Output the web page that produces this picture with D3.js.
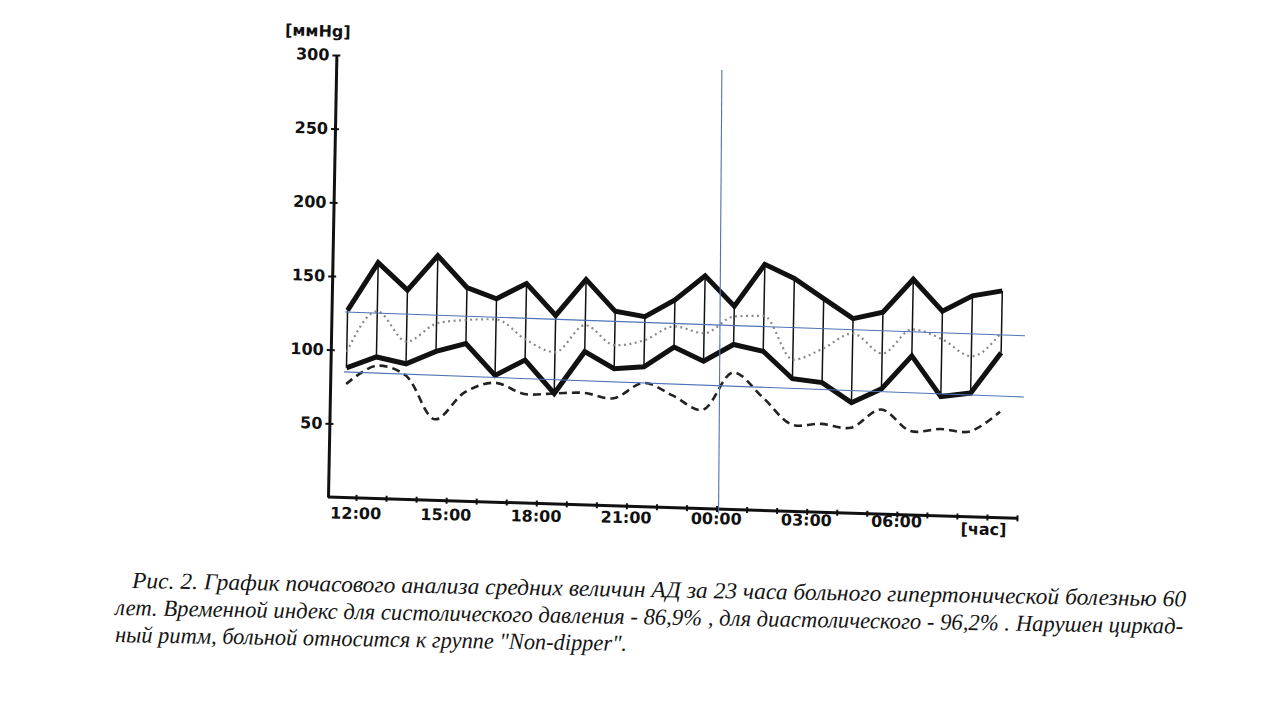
<!DOCTYPE html>
<html>
<head>
<meta charset="utf-8">
<script src="https://cdn.jsdelivr.net/npm/d3@7"></script>
<style>
  html, body { margin: 0; padding: 0; background: #ffffff; }
  svg { display: block; }
</style>
</head>
<body>
<svg id="chart" width="1278" height="720"></svg>
<script>
// ---- data ----
const hourTickValues = d3.range(0, 23);            // 12:00 ... 10:00, hourly ticks
const tickLabelHours = [0, 3, 6, 9, 12, 15, 18];
const tickLabels = ["12:00", "15:00", "18:00", "21:00", "00:00", "03:00", "06:00"];
const yTicks = [50, 100, 150, 200, 250, 300];

// 23 hourly averages
const systolic  = [127,160,142,166,145,138,149,128,153,132,129,141,158,138,167,158,145,132,137,160,139,150,154];
const diastolic = [ 88, 96, 92,101,107, 86, 97, 75,104, 93, 95,109,100,112,108, 90, 88, 75, 85,108, 81, 84,112];
const meanBP    = [ 99,127,107,120,123,124,111,103,122,109,113,123,119,131,132,103,111,122,109,126,120,109,126];
const heartRate = [ 77, 90, 84, 55, 74, 81, 74, 75, 76, 73, 84, 76, 67, 93, 77, 59, 60, 58, 71, 57, 59, 58, 72];

// blue reference lines drawn over the chart (hour, value)
const refUpper = [{h: -0.48, v: 125.9}, {h: 22.15, v: 124.0}];
const refLower = [{h: -0.48, v: 85.2},  {h: 22.15, v: 82.5}];
const refVertical = [{h: 11.9, v: 298}, {h: 12.07, v: -3}];

const captionLines = [
  "Рис. 2. График почасового анализа средних величин АД за 23 часа больного гипертонической болезнью 60",
  "лет. Временной индекс для систолического давления - 86,9% , для диастолического - 96,2% . Нарушен циркад-",
  "ный ритм, больной относится к группе \"Non-dipper\"."
];

// ---- layout ----
const svg = d3.select("#chart");
const ox = 328, oy = 497;          // axes origin
const xEnd = 1017;

const xTime = d3.scaleLinear().domain([0, 22]).range([356, 1017]);
const xIdx  = d3.scaleLinear().domain([0, systolic.length - 1]).range([344, 998]);
const y     = d3.scaleLinear().domain([0, 300]).range([oy, 55]);

// the scanned figure is slightly skewed
const g = svg.append("g")
  .attr("transform", `translate(${ox},${oy}) matrix(1,0.031,-0.019,1,0,0) translate(${-ox},${-oy})`);
const gLab = svg.append("g")
  .attr("transform", `translate(${ox},${oy}) matrix(1,0.015,-0.019,1,0,0) translate(${-ox},${-oy})`);

const ink = "#111";
const labelFont = "'DejaVu Sans', sans-serif";

// y axis
const yAxis = d3.axisLeft(y).tickValues(yTicks).tickFormat(d3.format("d")).tickSizeOuter(0).tickSizeInner(4);
const ya = g.append("g").attr("transform", `translate(${ox},0)`).call(yAxis);
ya.select(".domain").attr("stroke", ink).attr("stroke-width", 3);
ya.selectAll(".tick line").attr("x1", -4).attr("x2", 4).attr("stroke", ink).attr("stroke-width", 2);
ya.selectAll(".tick text")
  .attr("x", -7).attr("fill", ink)
  .style("font-family", labelFont).style("font-weight", "bold").style("font-size", "16px");

g.append("text")
  .attr("x", 309).attr("y", 37)
  .attr("text-anchor", "middle")
  .attr("fill", ink)
  .style("font-family", labelFont).style("font-weight", "bold").style("font-size", "16px")
  .text("[ммHg]");

// x axis
g.append("line").attr("x1", ox).attr("x2", xEnd).attr("y1", oy).attr("y2", oy)
  .attr("stroke", ink).attr("stroke-width", 3);
const xAxis = d3.axisBottom(xTime).tickValues(hourTickValues).tickSizeOuter(0).tickSizeInner(3)
  .tickFormat(() => "");
const xa = g.append("g").attr("transform", `translate(0,${oy})`).call(xAxis);
xa.select(".domain").remove();
xa.selectAll(".tick line").attr("y1", -3).attr("y2", 3).attr("stroke", ink).attr("stroke-width", 2);

// x tick labels (slightly less tilted in the scan)
gLab.selectAll("text.xl").data(tickLabelHours).join("text")
  .attr("class", "xl")
  .attr("x", d => xTime(d)).attr("y", 518.5)
  .attr("text-anchor", "middle").attr("fill", ink)
  .style("font-family", labelFont).style("font-weight", "bold").style("font-size", "16px")
  .text((d, i) => tickLabels[i]);

gLab.append("text")
  .attr("x", 984).attr("y", 525)
  .attr("text-anchor", "middle")
  .attr("fill", ink)
  .style("font-family", labelFont).style("font-weight", "bold").style("font-size", "16px")
  .text("[час]");

// vertical connectors between systolic and diastolic
g.append("g").selectAll("line").data(systolic).join("line")
  .attr("x1", (d, i) => xIdx(i)).attr("x2", (d, i) => xIdx(i))
  .attr("y1", d => y(d)).attr("y2", (d, i) => y(diastolic[i]))
  .attr("stroke", ink).attr("stroke-width", 1.5);

// dashed curve
g.append("path").datum(heartRate)
  .attr("fill", "none").attr("stroke", "#222").attr("stroke-width", 2.6)
  .attr("stroke-dasharray", "8,5")
  .attr("d", d3.line().x((d, i) => xIdx(i)).y(d => y(d)).curve(d3.curveCatmullRom.alpha(0.5)));

// mean pressure, grey dotted
g.append("path").datum(meanBP)
  .attr("fill", "none").attr("stroke", "#8a8a8a").attr("stroke-width", 2.2)
  .attr("stroke-dasharray", "2,3.5")
  .attr("d", d3.line().x((d, i) => xIdx(i)).y(d => y(d)).curve(d3.curveMonotoneX));

// systolic & diastolic thick lines
const thick = d3.line().x((d, i) => xIdx(i)).y(d => y(d));
[systolic, diastolic].forEach(s => {
  g.append("path").datum(s)
    .attr("fill", "none").attr("stroke", ink).attr("stroke-width", 5)
    .attr("stroke-linejoin", "miter").attr("stroke-miterlimit", 6)
    .attr("d", thick);
});

// blue reference lines
const refLine = d3.line().x(d => xTime(d.h)).y(d => y(d.v));
[refUpper, refLower, refVertical].forEach(r => {
  g.append("path").datum(r)
    .attr("fill", "none").attr("stroke", "#4f72b8").attr("stroke-width", 1.1)
    .attr("d", refLine);
});

// caption: each line laid out word by word along a slight slope
const capX = [132, 115, 115];
const capY = [588, 615, 642];
const capW = [1054, 1068, 512];
const capAngle = 1;
const slope = Math.tan(capAngle * Math.PI / 180);
const capFont = "'Liberation Serif', serif";
const capSize = "23px";
const meas = svg.append("text")
  .style("font-family", capFont).style("font-style", "italic").style("font-size", capSize);
const measure = s => { meas.text(s); return meas.node().getComputedTextLength(); };
const spaceW = measure("a a") - measure("aa");
const cap = svg.append("g");
captionLines.forEach((t, i) => {
  const words = t.split(" ");
  const widths = words.map(measure);
  const total = d3.sum(widths) + spaceW * (words.length - 1);
  const s = capW[i] / total;
  let off = 0;
  words.forEach((w, j) => {
    const x = capX[i] + s * off;
    const yy = capY[i] + slope * (s * off);
    cap.append("text")
      .attr("x", x).attr("y", yy)
      .attr("transform", `rotate(${capAngle}, ${x}, ${yy})`)
      .attr("textLength", s * widths[j]).attr("lengthAdjust", "spacingAndGlyphs")
      .attr("fill", "#151515")
      .style("font-family", capFont).style("font-style", "italic").style("font-size", capSize)
      .text(w);
    off += widths[j] + spaceW;
  });
});
meas.remove();
</script>
</body>
</html>
